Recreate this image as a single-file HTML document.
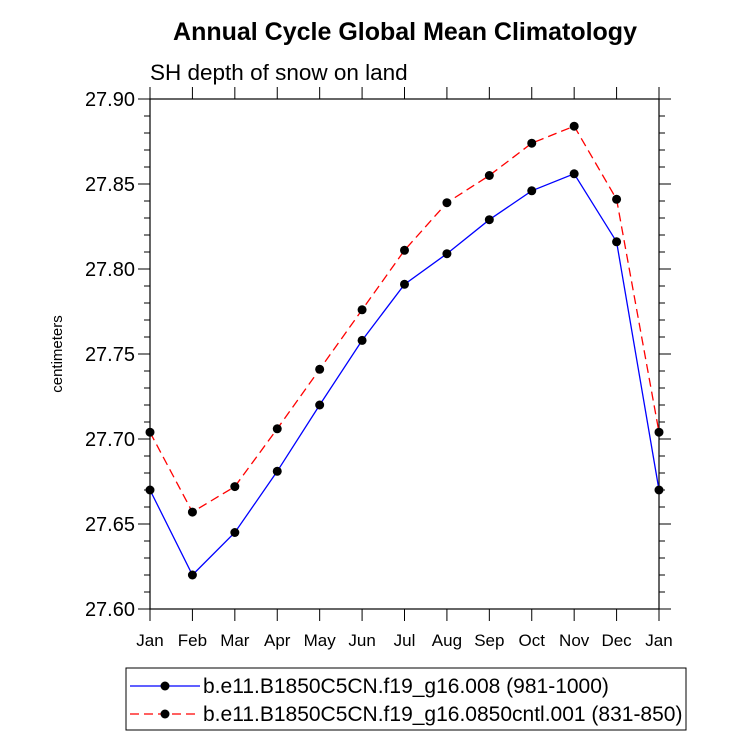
<!DOCTYPE html>
<html><head><meta charset="utf-8"><style>body{margin:0;background:#fff}svg{display:block;font-family:"Liberation Sans",sans-serif}</style></head>
<body>
<svg id="c" width="733" height="756">
<text x="405" y="40" text-anchor="middle" font-size="25" font-weight="bold">Annual Cycle Global Mean Climatology</text>
<text x="150" y="80" font-size="22.5">SH depth of snow on land</text>
<text transform="translate(62,354) rotate(-90)" text-anchor="middle" font-size="15">centimeters</text>
<g id="axes"></g><g id="series"></g>
<rect x="126" y="668" width="560" height="62" fill="none" stroke="#000" stroke-width="1"/>
<g>
<line x1="130" y1="686" x2="200" y2="686" stroke="#00f" stroke-width="1.3"/><circle cx="165" cy="686" r="4.5"/>
<text x="203" y="693" font-size="21">b.e11.B1850C5CN.f19_g16.008 (981-1000)</text></g>
<g>
<line x1="130" y1="714" x2="200" y2="714" stroke="#f00" stroke-width="1.3" stroke-dasharray="9,5"/><circle cx="165" cy="714" r="4.5"/>
<text x="203" y="721" font-size="21">b.e11.B1850C5CN.f19_g16.0850cntl.001 (831-850)</text></g>
</svg>
<script>
const months=["Jan","Feb","Mar","Apr","May","Jun","Jul","Aug","Sep","Oct","Nov","Dec","Jan"];
const blueVals=[27.670,27.620,27.645,27.681,27.720,27.758,27.791,27.809,27.829,27.846,27.856,27.816,27.670];
const redVals=[27.704,27.657,27.672,27.706,27.741,27.776,27.811,27.839,27.855,27.874,27.884,27.841,27.704];
const yTicks=["27.60","27.65","27.70","27.75","27.80","27.85","27.90"];
const L=150,R=659,T=99,B=609,ymin=27.6,ymax=27.9;
const xs=i=>L+(R-L)*i/(months.length-1);
const ys=v=>B-(v-ymin)/(ymax-ymin)*(B-T);
const NS="http://www.w3.org/2000/svg";
function mk(p,t,a){const e=document.createElementNS(NS,t);for(const k in a)e.setAttribute(k,a[k]);p.appendChild(e);return e;}
const ax=document.getElementById('axes');
const fr=mk(ax,'rect',{x:L,y:T,width:R-L,height:B-T,fill:'none',stroke:'#000','stroke-width':1.2});


months.forEach((m,i)=>{const x=xs(i);
mk(ax,'line',{x1:x,y1:B,x2:x,y2:B+12,stroke:'#000'});
mk(ax,'line',{x1:x,y1:T,x2:x,y2:T-12,stroke:'#000'});
const t=mk(ax,'text',{x:x,y:B+37,'text-anchor':'middle','font-size':17});t.textContent=m;

});
for(let k=0;k<=30;k++){const v=ymin+k*0.01,y=ys(v),maj=k%5==0,len=maj?12:6;
mk(ax,'line',{x1:L,y1:y,x2:L-len,y2:y,stroke:'#000'});
mk(ax,'line',{x1:R,y1:y,x2:R+len,y2:y,stroke:'#000'});}
yTicks.forEach(s=>{const t=mk(ax,'text',{x:L-15,y:ys(+s)+7,'text-anchor':'end','font-size':20});t.textContent=s;

});
const sg=document.getElementById('series');
function draw(vals,col,dash,name){const g=mk(sg,'g',{});


mk(g,'polyline',{points:vals.map((v,i)=>xs(i)+','+ys(v)).join(' '),fill:'none',stroke:col,'stroke-width':1.3,'stroke-dasharray':dash});
vals.forEach((v,i)=>{const c=mk(g,'circle',{cx:xs(i),cy:ys(v),r:4.5});

});}
draw(redVals,'#f00','9,5','series-red');
draw(blueVals,'#00f','none','series-blue');
</script>
</body></html>
